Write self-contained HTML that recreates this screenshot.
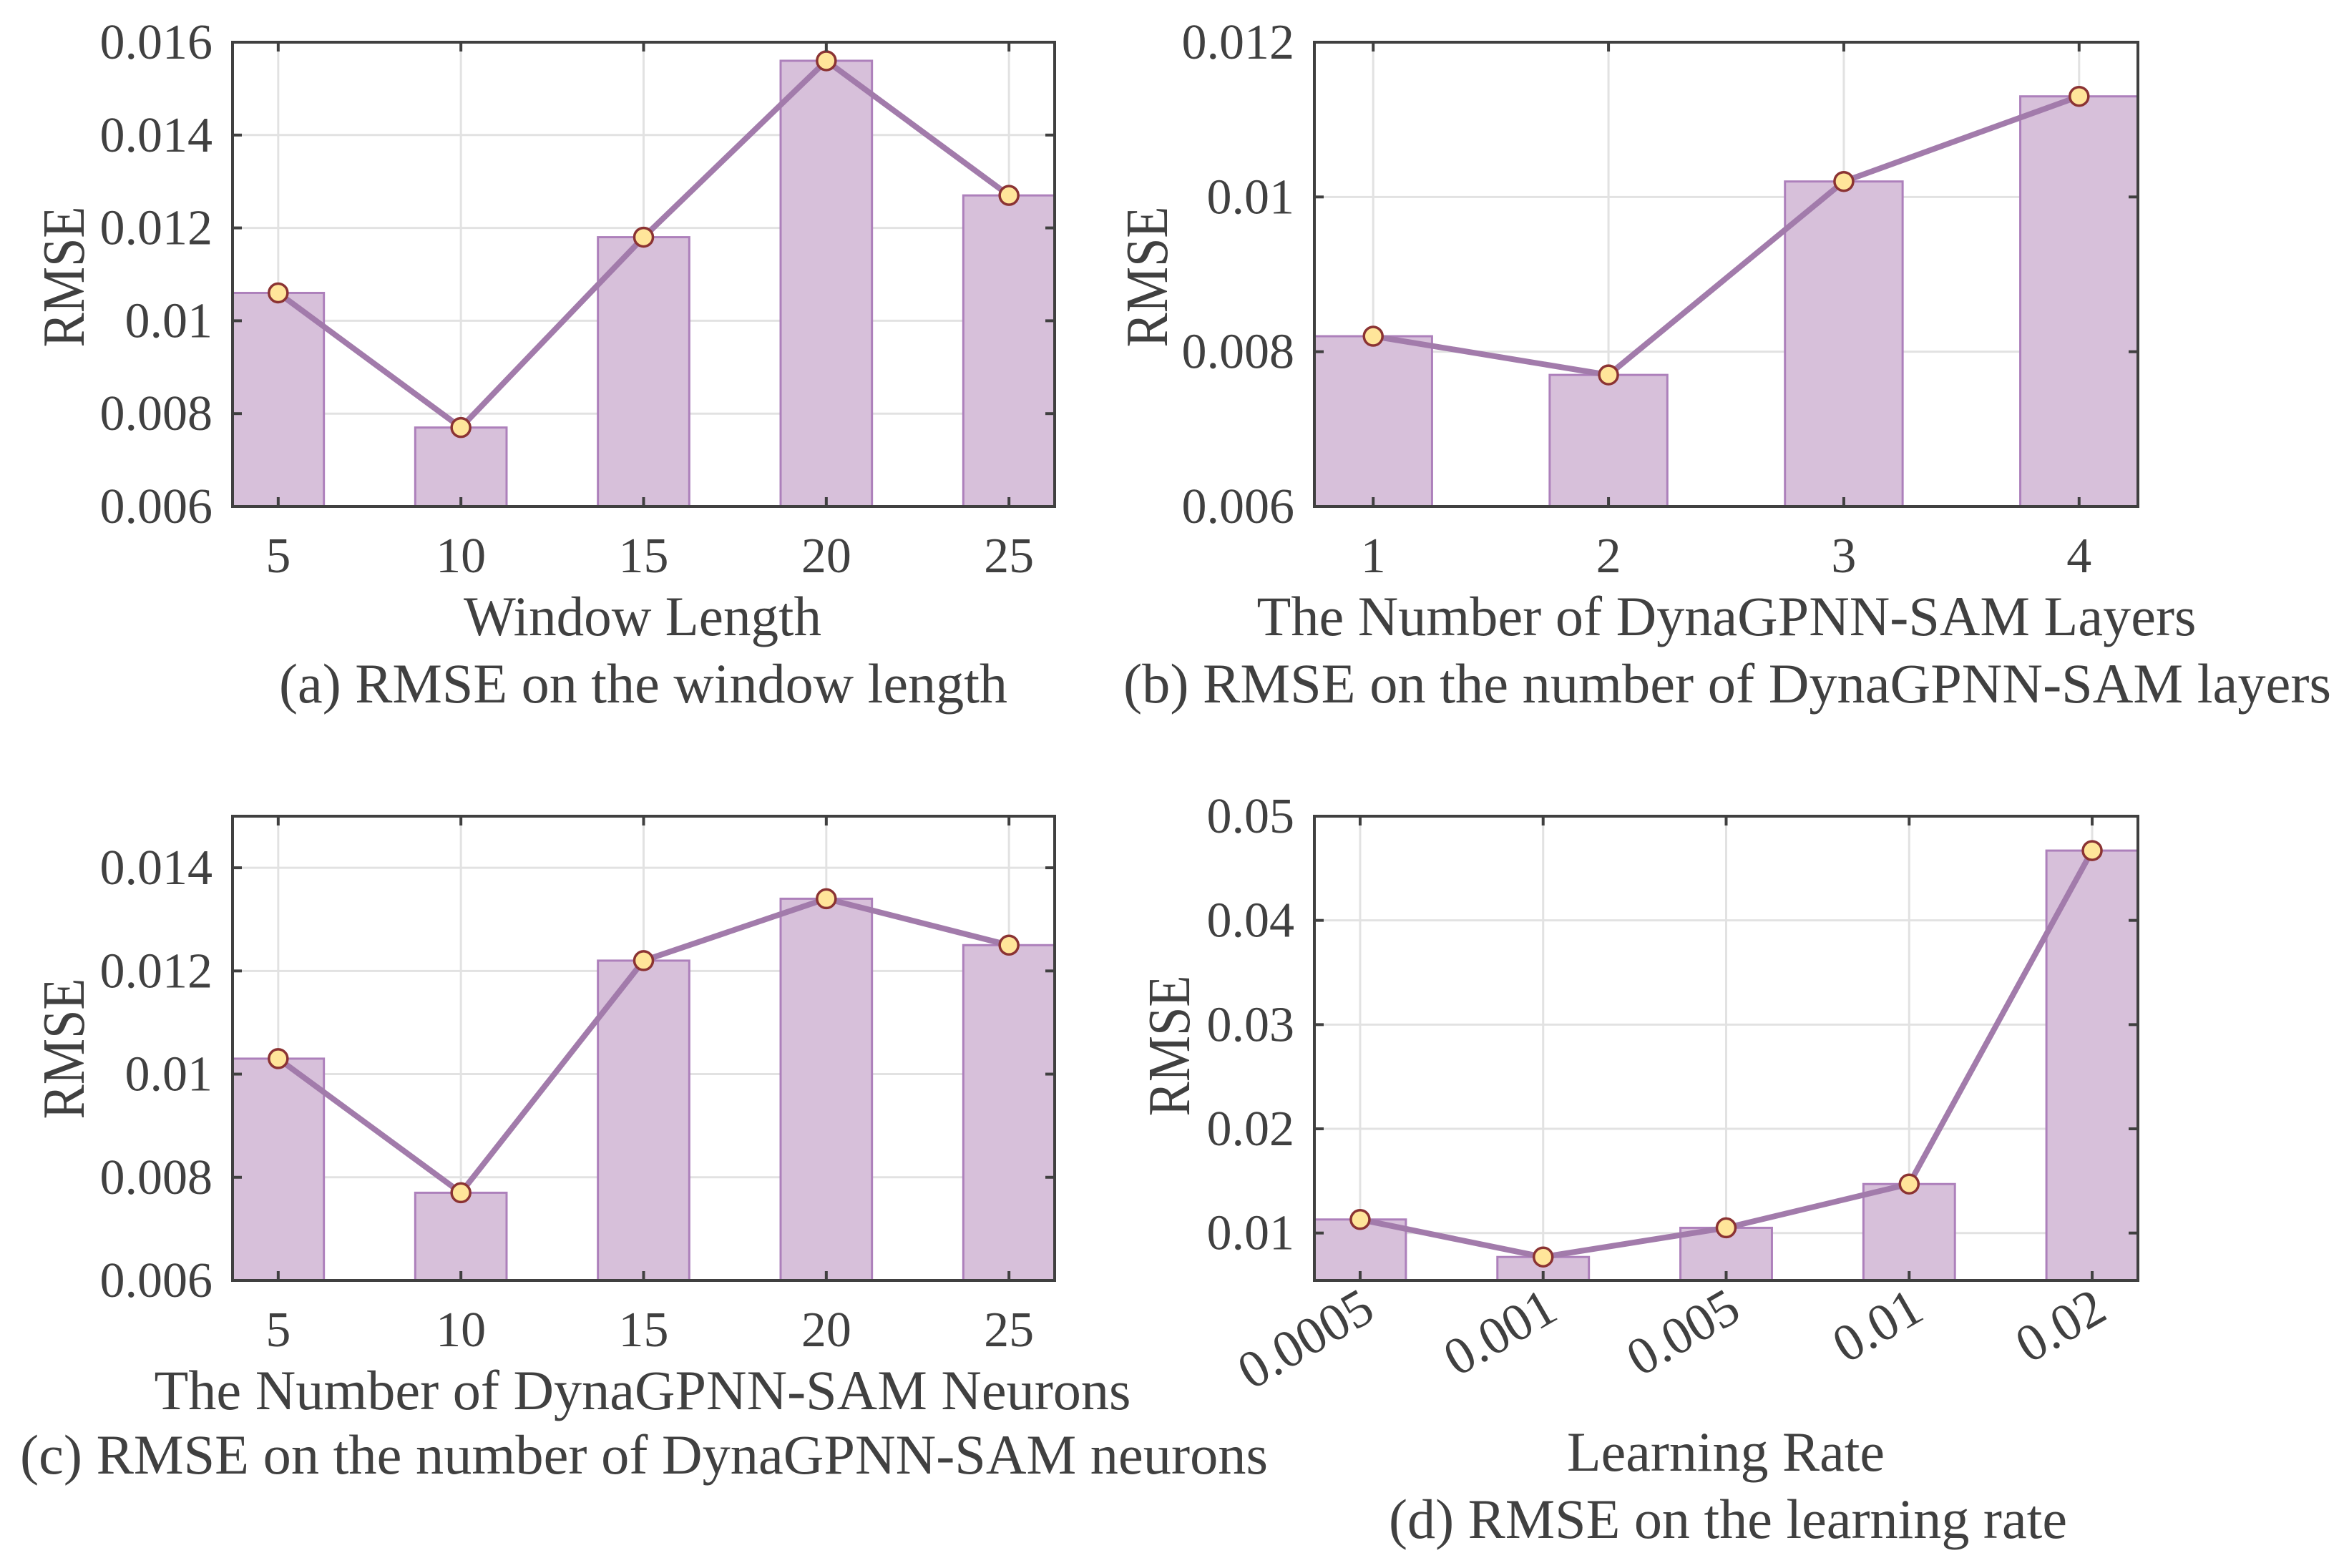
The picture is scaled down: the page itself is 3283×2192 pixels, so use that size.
<!DOCTYPE html>
<html><head><meta charset="utf-8"><style>
html,body{margin:0;padding:0;background:#fff}
svg{display:block}
text{font-family:"Liberation Serif","Times New Roman",serif;fill:#404040}
</style></head><body>
<svg id="fig" width="3283" height="2192" viewBox="0 0 3283 2192" xmlns="http://www.w3.org/2000/svg"></svg>
<script>
// Panel (a)
const catsA = ["5","10","15","20","25"];
const valsA = [0.0106,0.0077,0.0118,0.0156,0.0127];
const ticksA = [0.006,0.008,0.010,0.012,0.014,0.016];
const tickLabA = ["0.006","0.008","0.01","0.012","0.014","0.016"];
// Panel (b)
const catsB = ["1","2","3","4"];
const valsB = [0.0082,0.0077,0.0102,0.0113];
const ticksB = [0.006,0.008,0.010,0.012];
const tickLabB = ["0.006","0.008","0.01","0.012"];
// Panel (c)
const catsC = ["5","10","15","20","25"];
const valsC = [0.0103,0.0077,0.0122,0.0134,0.0125];
const ticksC = [0.006,0.008,0.010,0.012,0.014];
const tickLabC = ["0.006","0.008","0.01","0.012","0.014"];
// Panel (d)
const catsD = ["0.0005","0.001","0.005","0.01","0.02"];
const valsD = [0.0113,0.0077,0.0105,0.0147,0.0467];
const ticksD = [0.01,0.02,0.03,0.04,0.05];
const tickLabD = ["0.01","0.02","0.03","0.04","0.05"];

const NS = "http://www.w3.org/2000/svg";
const svg = document.getElementById("fig");
function el(tag, attrs, parent){
  const e = document.createElementNS(NS, tag);
  for (const k in attrs) e.setAttribute(k, attrs[k]);
  (parent||svg).appendChild(e);
  return e;
}
function txt(str, attrs, parent){ const t = el("text", attrs, parent); t.textContent = str; return t; }

function panel(cfg){
  const g = el("g", {});
  
  
  const {L,R,T,B,ymin,ymax,cats,vals,ticks,labs} = cfg;
  const n = cats.length;
  const xmin = 0.75, xmax = n + 0.25;
  const sx = v => L + (v - xmin) / (xmax - xmin) * (R - L);
  const sy = v => B - (v - ymin) / (ymax - ymin) * (B - T);
  for (let i=0;i<n;i++){
    const gl = el("line",{x1:sx(i+1),x2:sx(i+1),y1:T,y2:B,stroke:"#e2e2e2","stroke-width":3},g);
    
    
  }
  ticks.forEach(t=>{
    const gl = el("line",{x1:L,x2:R,y1:sy(t),y2:sy(t),stroke:"#e2e2e2","stroke-width":3},g);
    
    
  });
  const clip = el("clipPath",{id:"clip-"+cfg.name},g);
  el("rect",{x:L,y:T,width:R-L,height:B-T},clip);
  const bg = el("g",{"clip-path":"url(#clip-"+cfg.name+")"},g);
  vals.forEach((v,i)=>{
    const x0 = sx(i+1-0.25), x1 = sx(i+1+0.25);
    const r = el("rect",{x:x0,y:sy(v),width:x1-x0,height:B-sy(v)+4,fill:"#d7c0da",stroke:"#ad80bb","stroke-width":3},bg);
    
    
  });
  const pts = vals.map((v,i)=>sx(i+1)+","+sy(v)).join(" ");
  const pl = el("polyline",{points:pts,fill:"none",stroke:"#a27bab","stroke-width":8,"stroke-linejoin":"round"},g);
  
  
  vals.forEach((v,i)=>{
    const c = el("circle",{cx:sx(i+1),cy:sy(v),r:13,fill:"#ffe59a",stroke:"#8b3333","stroke-width":3.5},g);
    
    
  });
  const box = el("rect",{x:L,y:T,width:R-L,height:B-T,fill:"none",stroke:"#404040","stroke-width":4},g);
  
  
  for (let i=0;i<n;i++){
    const x = sx(i+1);
    el("line",{x1:x,x2:x,y1:B,y2:B-13,stroke:"#404040","stroke-width":4},g);
    el("line",{x1:x,x2:x,y1:T,y2:T+13,stroke:"#404040","stroke-width":4},g);
    let t;
    if (cfg.rotate){
      const ax = x + 24, ay = B + 52;
      t = txt(cats[i],{x:ax,y:ay,"text-anchor":"end","font-size":74,transform:"rotate(-30 "+ax+" "+ay+")"},g);
    } else {
      t = txt(cats[i],{x:x,y:cfg.xtY,"text-anchor":"middle","font-size":70},g);
    }
    
    
  }
  ticks.forEach((tv,i)=>{
    const y = sy(tv);
    el("line",{x1:L,x2:L+13,y1:y,y2:y,stroke:"#404040","stroke-width":4},g);
    el("line",{x1:R,x2:R-13,y1:y,y2:y,stroke:"#404040","stroke-width":4},g);
    const t = txt(labs[i],{x:L-28,y:y+23,"text-anchor":"end","font-size":70},g);
    
    
  });
  const yt = txt("RMSE",{x:0,y:0,"text-anchor":"middle","font-size":84,textLength:197,lengthAdjust:"spacingAndGlyphs",transform:"translate("+cfg.yT[0]+" "+cfg.yT[1]+") rotate(-90)"},g);
  
  
  const xt = txt(cfg.xtitle,{x:cfg.cx,y:cfg.xtitleY,"text-anchor":"middle","font-size":78,textLength:cfg.xtitleW,lengthAdjust:"spacingAndGlyphs"},g);
  
  
  const cp = txt(cfg.caption,{x:cfg.capX,y:cfg.capY,"text-anchor":"middle","font-size":78,textLength:cfg.capW,lengthAdjust:"spacingAndGlyphs"},g);
  
  
}

panel({name:"panel-a",L:325,R:1474,T:59,B:708,ymin:0.006,ymax:0.016,cats:catsA,vals:valsA,ticks:ticksA,labs:tickLabA,
  xtY:800,yT:[117,387],xtitle:"Window Length",cx:898,xtitleY:888,xtitleW:500,
  caption:"(a) RMSE on the window length",capX:899,capY:982,capW:1018});
panel({name:"panel-b",L:1837,R:2988,T:59,B:708,ymin:0.006,ymax:0.012,cats:catsB,vals:valsB,ticks:ticksB,labs:tickLabB,
  xtY:800,yT:[1631,387],xtitle:"The Number of DynaGPNN-SAM Layers",cx:2413,xtitleY:888,xtitleW:1313,
  caption:"(b) RMSE on the number of DynaGPNN-SAM layers",capX:2414,capY:982,capW:1688});
panel({name:"panel-c",L:325,R:1474,T:1141,B:1790,ymin:0.006,ymax:0.015,cats:catsC,vals:valsC,ticks:ticksC,labs:tickLabC,
  xtY:1882,yT:[117,1466],xtitle:"The Number of DynaGPNN-SAM Neurons",cx:898,xtitleY:1970,xtitleW:1365,
  caption:"(c) RMSE on the number of DynaGPNN-SAM neurons",capX:900,capY:2060,capW:1744});
panel({name:"panel-d",L:1837,R:2988,T:1141,B:1790,ymin:0.00545,ymax:0.05,cats:catsD,vals:valsD,ticks:ticksD,labs:tickLabD,
  rotate:true,yT:[1662,1462],xtitle:"Learning Rate",cx:2412,xtitleY:2056,xtitleW:444,
  caption:"(d) RMSE on the learning rate",capX:2415,capY:2150,capW:948});
</script>
</body></html>
